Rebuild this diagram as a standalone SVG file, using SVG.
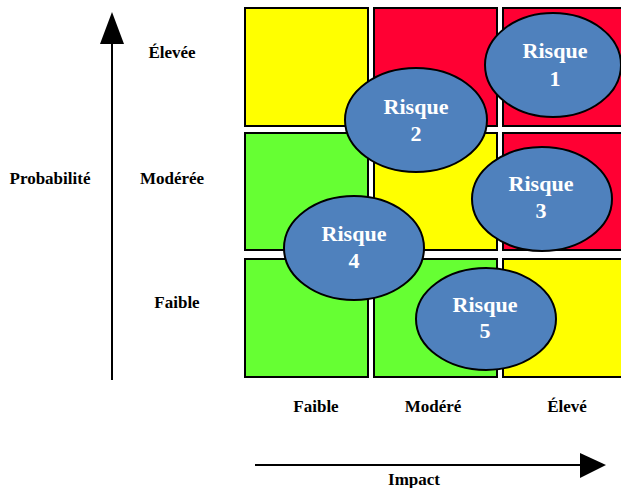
<svg xmlns="http://www.w3.org/2000/svg" width="621" height="488" viewBox="0 0 621 488">
<style>
.cell{stroke:#000;stroke-width:2}
.y{fill:#FFFF00}.r{fill:#FF0033}.g{fill:#66FF33}
.risk{fill:#4F81BD;stroke:#000;stroke-width:2}
.rt{font-family:"Liberation Serif","Times New Roman",serif;font-weight:bold;font-size:22px;fill:#fff;text-anchor:middle}
.lbl{font-family:"Liberation Serif","Times New Roman",serif;font-weight:bold;font-size:17px;fill:#000;text-anchor:middle}
.ax{stroke:#000;stroke-width:2;fill:none}
</style>
<rect width="621" height="488" fill="#fff"/>
<g id="grid">
<rect class="cell y" x="245" y="8" width="123" height="118"/>
<rect class="cell r" x="374" y="8" width="123" height="118"/>
<rect class="cell r" x="503" y="8" width="125" height="118"/>
<rect class="cell g" x="245" y="133" width="123" height="117"/>
<rect class="cell y" x="374" y="133" width="123" height="117"/>
<rect class="cell r" x="503" y="133" width="125" height="117"/>
<rect class="cell g" x="245" y="259" width="123" height="118"/>
<rect class="cell g" x="374" y="259" width="123" height="118"/>
<rect class="cell y" x="503" y="259" width="125" height="118"/>
</g>
<g id="connectors">
<line class="ax" x1="112" y1="380" x2="112" y2="40"/>
<polygon points="112,12 100,44 124,44" fill="#000"/>
<line class="ax" x1="255" y1="465" x2="585" y2="465"/>
<polygon points="606,465 580,453 580,478" fill="#000"/>
</g>
<g id="risque1">
<ellipse class="risk" cx="553" cy="65" rx="68" ry="52"/>
<text class="rt" x="555" y="58">Risque</text>
<text class="rt" x="555" y="86">1</text>
</g>
<g id="risque2">
<ellipse class="risk" cx="416" cy="120" rx="71" ry="52"/>
<text class="rt" x="416" y="114">Risque</text>
<text class="rt" x="416" y="141">2</text>
</g>
<g id="risque3">
<ellipse class="risk" cx="542" cy="199" rx="70" ry="52"/>
<text class="rt" x="541" y="191">Risque</text>
<text class="rt" x="541" y="218">3</text>
</g>
<g id="risque4">
<ellipse class="risk" cx="354" cy="248" rx="70" ry="52"/>
<text class="rt" x="354" y="241">Risque</text>
<text class="rt" x="354" y="268">4</text>
</g>
<g id="risque5">
<ellipse class="risk" cx="486" cy="319" rx="70" ry="51"/>
<text class="rt" x="485" y="312">Risque</text>
<text class="rt" x="485" y="338">5</text>
</g>
<g id="labels">
<text class="lbl" x="172" y="58">Élevée</text>
<text class="lbl" x="172" y="184">Modérée</text>
<text class="lbl" x="177" y="308">Faible</text>
<text class="lbl" x="50" y="184">Probabilité</text>
<text class="lbl" x="316" y="412">Faible</text>
<text class="lbl" x="433" y="412">Modéré</text>
<text class="lbl" x="567" y="412">Élevé</text>
<text class="lbl" x="414" y="485">Impact</text>
</g>
</svg>
